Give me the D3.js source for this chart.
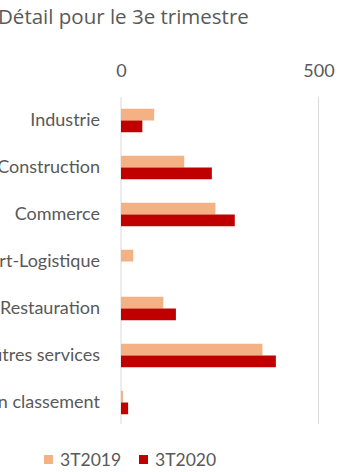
<!DOCTYPE html>
<html>
<head>
<meta charset="utf-8">
<script src="https://cdn.jsdelivr.net/npm/d3@7"></script>
<style>
  html, body { margin: 0; padding: 0; background: #fff; }
  svg { display: block; }
  text { font-family: Lato, "Open Sans", sans-serif; fill: #595959; }
</style>
</head>
<body>
<svg id="chart" width="347" height="472"></svg>
<script>
// Activity sectors (top to bottom)
const categories = [
  "Industrie",
  "Construction",
  "Commerce",
  "Transport-Logistique",
  "Hébergement-Restauration",
  "Autres services",
  "Non classement"
];
const seriesNames = ["3T2019", "3T2020"];
const values2019 = [84, 160, 239, 31, 107, 358, 5];
const values2020 = [54, 230, 288, 0, 139, 392, 18];
const xTicks = [0, 500];
const colors = ["#F4B183", "#C00000"];

const svg = d3.select("#chart");

const x = d3.scaleLinear().domain([0, 500]).range([121, 318.5]);
const y = d3.scaleBand().domain(categories).range([97, 426])
  .paddingInner(0.5).paddingOuter(0.25);
const sub = d3.scaleBand().domain(seriesNames).range([0, y.bandwidth()]);

// Title
svg.append("text")
  .attr("x", -2).attr("y", 24)
  .style("font-family", "'Open Sans', sans-serif")
  .style("font-size", "20.5px")
  .text("Détail pour le 3e trimestre");

// Vertical gridlines
svg.append("g").selectAll("line").data(xTicks).join("line")
  .attr("x1", d => x(d)).attr("x2", d => x(d))
  .attr("y1", 97).attr("y2", 424)
  .attr("stroke", "#D9D9D9").attr("stroke-width", 1);

// Top axis labels
const axis = svg.append("g").attr("transform", "translate(0,77)")
  .call(d3.axisTop(x).tickValues(xTicks).tickSize(0).tickPadding(0));
axis.select(".domain").remove();
axis.selectAll("text")
  .attr("y", 0)
  .attr("dy", "0")
  .style("font-size", "18px")
  .style("font-family", "Lato, sans-serif")
  .attr("fill", "#595959");

// Category labels
svg.append("g").selectAll("text").data(categories).join("text")
  .attr("x", 100)
  .attr("y", d => y(d) + y.bandwidth() / 2)
  .attr("dy", "0.3em")
  .attr("text-anchor", "end")
  .style("font-size", "18px")
  .text(d => d);

// Bars
const rows = categories.map((c, i) => ({ c, v: [values2019[i], values2020[i]] }));
const groups = svg.append("g").selectAll("g").data(rows).join("g")
  .attr("transform", d => `translate(0,${y(d.c)})`);
groups.selectAll("rect")
  .data(d => d.v.map((v, j) => ({ v, s: seriesNames[j], j })))
  .join("rect")
  .attr("x", x(0))
  .attr("y", d => sub(d.s))
  .attr("width", d => x(d.v) - x(0))
  .attr("height", sub.bandwidth())
  .attr("fill", d => colors[d.j]);

// Legend
const legendX = [44, 139];
const legend = svg.append("g").selectAll("g").data(seriesNames).join("g")
  .attr("transform", (d, i) => `translate(${legendX[i]},455)`);
legend.append("rect")
  .attr("width", 9).attr("height", 9)
  .attr("fill", (d, i) => colors[i]);
legend.append("text")
  .attr("x", 16).attr("y", 11)
  .style("font-size", "17.5px")
  .text(d => d);
</script>
</body>
</html>
